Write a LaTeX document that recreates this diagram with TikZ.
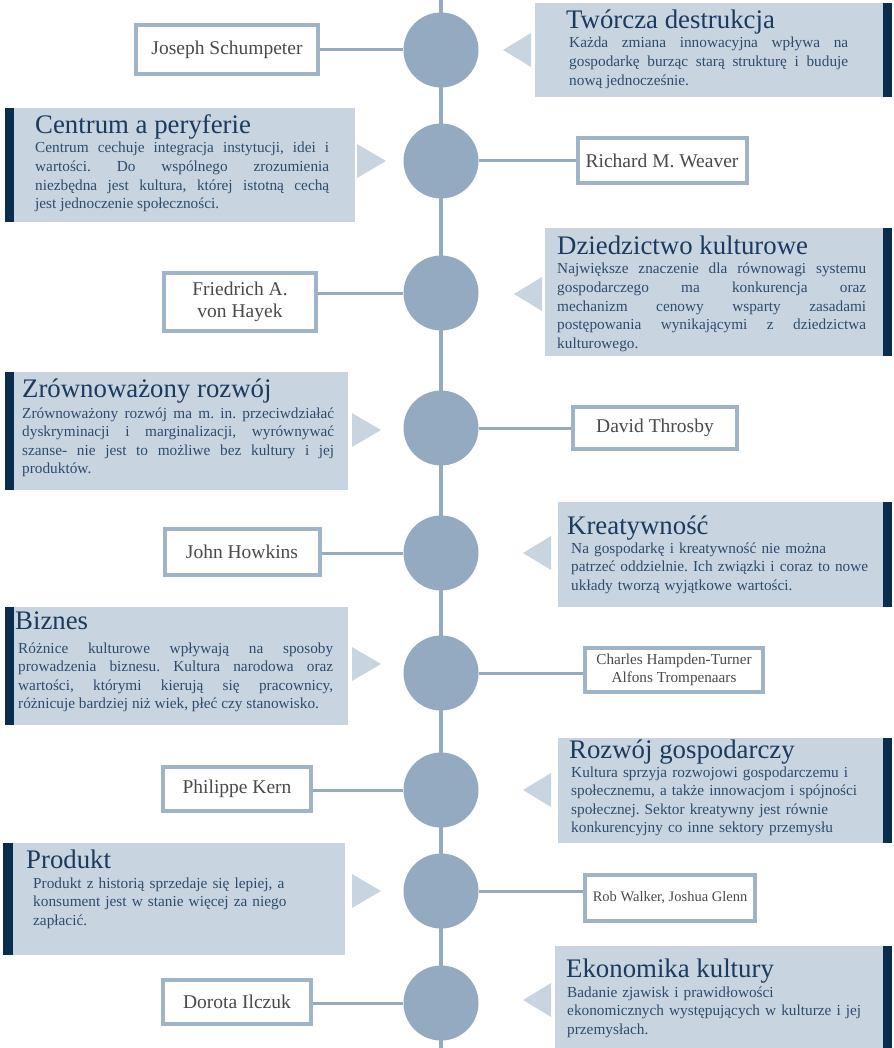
\documentclass[tikz,border=0pt]{standalone}
\usepackage{fontspec}
\setmainfont{Liberation Serif}
\usetikzlibrary{positioning}

\definecolor{spine}{HTML}{94AAC0}
\definecolor{framecol}{HTML}{A0B4C8}
\definecolor{boxfill}{HTML}{C8D5E1}
\definecolor{barcol}{HTML}{0B2D4D}
\definecolor{headcol}{HTML}{1C3A5C}
\definecolor{bodycol}{HTML}{2F4B6B}
\definecolor{namecol}{HTML}{4A4A4A}

\hyphenpenalty=10000
\exhyphenpenalty=10000
\tolerance=10000
\hbadness=10000
\frenchspacing

\begin{document}
\begin{tikzpicture}[x=1pt, y=-1pt,
            % Styles
            topic/.style={rectangle, fill=boxfill, anchor=north west, inner sep=0pt},
            heading/.style={anchor=base west, inner sep=0pt, text=headcol, font=\fontsize{26.8}{30}\selectfont},
            body/.style={anchor=base west, inner sep=0pt, text=bodycol, align=justify, font=\fontsize{15.3}{18.6}\selectfont},
            ragged/.style={body, align=left, text width=330pt},
            person/.style={rectangle, draw=framecol, line width=4pt, fill=white, text=namecol, align=center, inner sep=0pt, font=\fontsize{19.5}{22}\selectfont},
            dot/.style={circle, fill=spine, minimum size=75pt, inner sep=0pt},
            link/.style={draw=spine, line width=3pt},
            pointer/.style={fill=boxfill}
        ]

        \useasboundingbox (0,0) rectangle (893,1048);

        % Spine
        \coordinate (top) at (441,0);
        \coordinate (bottom) at (441,1048);
        \draw[spine, line width=4pt] (top) -- (bottom);

        % Stations
        \node [dot] (c1) at (441,50) {};
        \node [dot] (c2) at (441,161) {};
        \node [dot] (c3) at (441,293) {};
        \node [dot] (c4) at (441,428) {};
        \node [dot] (c5) at (441,553) {};
        \node [dot] (c6) at (441,673) {};
        \node [dot] (c7) at (441,790) {};
        \node [dot] (c8) at (441,891) {};
        \node [dot] (c9) at (441,1003) {};

        % Edges
        \path [link] (c1) -- (c1 -| 318,0);
        \path [link] (c2) -- (c2 -| 577,0);
        \path [link] (c3) -- (c3 -| 165,0);
        \path [link] (c4) -- (c4 -| 573,0);
        \path [link] (c5) -- (c5 -| 165,0);
        \path [link] (c6) -- (c6 -| 585,0);
        \path [link] (c7) -- (c7 -| 163,0);
        \path [link] (c8) -- (c8 -| 585,0);
        \path [link] (c9) -- (c9 -| 163,0);

        % Authors
        \node [person, minimum width=182pt, minimum height=49pt] (schumpeter) at (227,50) {Joseph Schumpeter};
        \node [person, minimum width=169pt, minimum height=45pt] (weaver) at (662,161) {Richard M. Weaver};
        \node [person, minimum width=152pt, minimum height=57pt] (hayek) at (240,302) {Friedrich A.\\von Hayek};
        \node [person, minimum width=164pt, minimum height=42pt] (throsby) at (655,428) {David Throsby};
        \node [person, minimum width=155pt, minimum height=46pt] (howkins) at (242,552) {John Howkins};
        \node [person, minimum width=178pt, minimum height=44pt, font=\fontsize{15.2}{18}\selectfont] (hampden) at (674,670) {Charles Hampden-Turner\\Alfons Trompenaars};
        \node [person, minimum width=148pt, minimum height=44pt] (kern) at (237,789) {Philippe Kern};
        \node [person, minimum width=170pt, minimum height=46pt, font=\fontsize{14.5}{17}\selectfont] (walker) at (670,898) {Rob Walker, Joshua Glenn};
        \node [person, minimum width=148pt, minimum height=44pt] (ilczuk) at (237,1002) {Dorota Ilczuk};

        % Topic boxes
        \node [topic, minimum width=357pt, minimum height=94pt] (destrukcja) at (535,3) {};
        \node [topic, minimum width=350pt, minimum height=114pt] (centrum) at (5,108) {};
        \node [topic, minimum width=347pt, minimum height=128pt] (dziedzictwo) at (545,228) {};
        \node [topic, minimum width=343pt, minimum height=118pt] (rozwoj) at (5,372) {};
        \node [topic, minimum width=334pt, minimum height=105pt] (kreatywnosc) at (558,502) {};
        \node [topic, minimum width=343pt, minimum height=118pt] (biznes) at (5,607) {};
        \node [topic, minimum width=334pt, minimum height=105pt] (gospodarczy) at (558,738) {};
        \node [topic, minimum width=342pt, minimum height=112pt] (produkt) at (3,843) {};
        \node [topic, minimum width=337pt, minimum height=102pt] (ekonomika) at (555,946) {};

        % Bars
        \fill [barcol] (destrukcja.north east) rectangle ([xshift=-9pt]destrukcja.south east);
        \fill [barcol] (dziedzictwo.north east) rectangle ([xshift=-9pt]dziedzictwo.south east);
        \fill [barcol] (kreatywnosc.north east) rectangle ([xshift=-9pt]kreatywnosc.south east);
        \fill [barcol] (gospodarczy.north east) rectangle ([xshift=-9pt]gospodarczy.south east);
        \fill [barcol] (ekonomika.north east) rectangle ([xshift=-9pt]ekonomika.south east);
        \fill [barcol] (centrum.north west) rectangle ([xshift=9pt]centrum.south west);
        \fill [barcol] (rozwoj.north west) rectangle ([xshift=9pt]rozwoj.south west);
        \fill [barcol] (biznes.north west) rectangle ([xshift=9pt]biznes.south west);
        \fill [barcol] (produkt.north west) rectangle ([xshift=10pt]produkt.south west);

        % Pointers
        \fill [pointer] (531,33) -- (503,50) -- (531,67) -- cycle;
        \fill [pointer] (357,144) -- (386,161) -- (357,178) -- cycle;
        \fill [pointer] (542,277) -- (514,294) -- (542,311) -- cycle;
        \fill [pointer] (352,413) -- (381,430) -- (352,447) -- cycle;
        \fill [pointer] (551,536) -- (523,553) -- (551,570) -- cycle;
        \fill [pointer] (352,647) -- (381,664) -- (352,681) -- cycle;
        \fill [pointer] (551,773) -- (523,790) -- (551,807) -- cycle;
        \fill [pointer] (352,874) -- (381,891) -- (352,908) -- cycle;
        \fill [pointer] (551,983) -- (523,1000) -- (551,1017) -- cycle;

        % Texts
        \node [heading] (destrukcja-t) at (566,29) {Twórcza destrukcja};
        \node [body, text width=279pt] (destrukcja-b) at (569,48) {Każda zmiana innowacyjna wpływa na\linebreak gospodarkę burząc starą strukturę i buduje\linebreak nową jednocześnie.};

        \node [heading] (centrum-t) at (35,134) {Centrum a peryferie};
        \node [body, text width=294pt] (centrum-b) at (35,153) {Centrum cechuje integracja instytucji, idei i\linebreak wartości. Do wspólnego zrozumienia\linebreak niezbędna jest kultura, której istotną cechą\linebreak jest jednoczenie społeczności.};

        \node [heading] (dziedzictwo-t) at (557,255) {Dziedzictwo kulturowe};
        \node [body, text width=309pt] (dziedzictwo-b) at (557,274) {Największe znaczenie dla równowagi systemu\linebreak gospodarczego ma konkurencja oraz\linebreak mechanizm cenowy wsparty zasadami\linebreak postępowania wynikającymi z dziedzictwa\linebreak kulturowego.};

        \node [heading] (rozwoj-t) at (22,397) {Zrównoważony rozwój};
        \node [body, text width=312pt] (rozwoj-b) at (22,418) {Zrównoważony rozwój ma m. in. przeciwdziałać\linebreak dyskryminacji i marginalizacji, wyrównywać\linebreak szanse- nie jest to możliwe bez kultury i jej\linebreak produktów.};

        \node [heading] (kreatywnosc-t) at (567,534) {Kreatywność};
        \node [ragged] (kreatywnosc-b) at (571,553) {Na gospodarkę i kreatywność nie można\\patrzeć oddzielnie. Ich związki i coraz to nowe\\układy tworzą wyjątkowe wartości.};

        \node [heading] (biznes-t) at (15,629) {Biznes};
        \node [body, text width=315pt] (biznes-b) at (18,653) {Różnice kulturowe wpływają na sposoby\linebreak prowadzenia biznesu. Kultura narodowa oraz\linebreak wartości, którymi kierują się pracownicy,\linebreak różnicuje bardziej niż wiek, płeć czy stanowisko.};

        \node [heading] (gospodarczy-t) at (569,758) {Rozwój gospodarczy};
        \node [ragged] (gospodarczy-b) at (571,777) {Kultura sprzyja rozwojowi gospodarczemu i\\społecznemu, a także innowacjom i spójności\\społecznej. Sektor kreatywny jest równie\\konkurencyjny co inne sektory przemysłu};

        \node [heading] (produkt-t) at (26,868) {Produkt};
        \node [ragged] (produkt-b) at (33,888) {Produkt z historią sprzedaje się lepiej, a\\konsument jest w stanie więcej za niego\\zapłacić.};

        \node [heading] (ekonomika-t) at (566,977) {Ekonomika kultury};
        \node [ragged] (ekonomika-b) at (567,997) {Badanie zjawisk i prawidłowości\\ekonomicznych występujących w kulturze i jej\\przemysłach.};

    \end{tikzpicture}
\end{document}
